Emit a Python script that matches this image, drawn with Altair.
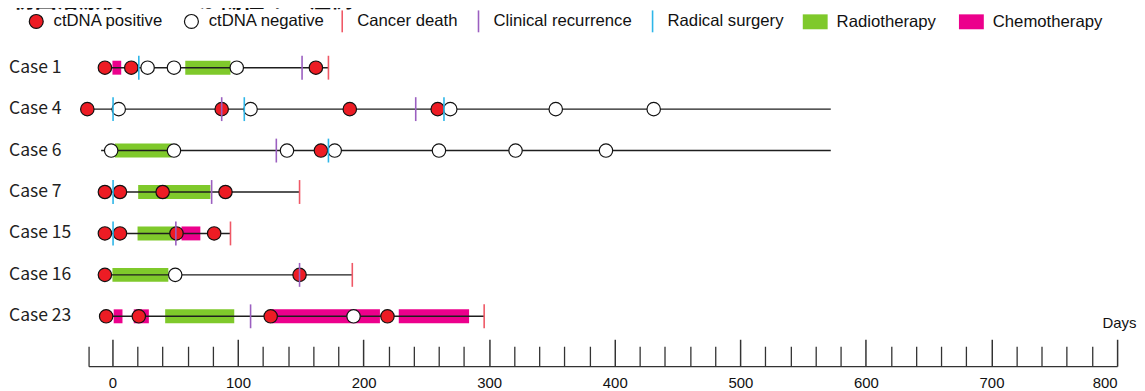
import altair as alt
import pandas as pd

TITLE = "初回治療後 ctDNA が陽性の 7 症例"

cases = ["Case 1", "Case 4", "Case 6", "Case 7", "Case 15", "Case 16", "Case 23"]

# follow-up line per case (days)
line_start = [-6, -20, -9, -6, -6, -6, -5]
line_end = [172, 572, 572, 149, 94, 191, 296]

# ctDNA tests
pt_case = (["Case 1"] * 6 + ["Case 4"] * 9 + ["Case 6"] * 8 + ["Case 7"] * 4
           + ["Case 15"] * 4 + ["Case 16"] * 3 + ["Case 23"] * 5)
pt_day = ([-6, 15, 28, 49, 99, 162]
          + [-20, 5, 87, 110, 189, 259, 269, 353, 431]
          + [-1, 49, 139, 166, 177, 260, 321, 393]
          + [-6, 6, 40, 90]
          + [-6, 6, 51, 81]
          + [-6, 50, 149]
          + [-5, 21, 126, 192, 219])
pt_status = (["P", "P", "N", "N", "N", "P"]
             + ["P", "N", "P", "N", "P", "P", "N", "N", "N"]
             + ["N", "N", "N", "P", "N", "N", "N", "N"]
             + ["P", "P", "P", "P"]
             + ["P", "P", "P", "P"]
             + ["P", "N", "P"]
             + ["P", "P", "P", "N", "P"])

# treatments (R = radiotherapy, C = chemotherapy)
tr_case = ["Case 1", "Case 1", "Case 6", "Case 7", "Case 15", "Case 15", "Case 16",
           "Case 23", "Case 23", "Case 23", "Case 23", "Case 23"]
tr_start = [0, 58, 2, 20.5, 20, 55, 0, 1, 17, 42, 127, 228]
tr_end = [7, 94, 47, 78, 50, 70, 44.5, 8, 29, 97, 213, 284]
tr_type = ["C", "R", "R", "R", "R", "C", "R", "C", "C", "R", "C", "C"]

# events: S = radical surgery, R = clinical recurrence, D = cancer death
ev_case = ["Case 1", "Case 1", "Case 1",
           "Case 4", "Case 4", "Case 4", "Case 4", "Case 4",
           "Case 6", "Case 6",
           "Case 7", "Case 7", "Case 7",
           "Case 15", "Case 15", "Case 15",
           "Case 16", "Case 16",
           "Case 23", "Case 23"]
ev_day = [21, 151, 172,
          0.5, 87, 105, 241.5, 264,
          130.5, 172,
          0.5, 79, 149,
          0.5, 50.5, 94,
          149, 191,
          110, 296]
ev_type = ["S", "R", "D",
           "S", "R", "S", "R", "S",
           "R", "S",
           "S", "R", "D",
           "S", "R", "D",
           "R", "D",
           "R", "D"]

major_ticks = [0, 100, 200, 300, 400, 500, 600, 700, 800]
minor_ticks = [-19] + [v for v in range(20, 800, 20) if v % 100 != 0]

circle_labels = ["ctDNA positive", "ctDNA negative"]
line_labels = ["Cancer death", "Clinical recurrence", "Radical surgery"]
rect_labels = ["Radiotherapy", "Chemotherapy"]

RED = "#ED1C24"
GREEN = "#7FC92B"
PINK = "#EC008C"
DEATH = "#EF5866"
RECUR = "#9B5FC0"
SURG = "#2EB6E8"
LINE = "#1E1E1E"

vline_path = "M0,-1L0,1"
rect_path = "M-1,-0.6L1,-0.6L1,0.6L-1,0.6Z"

lines_df = pd.DataFrame({"case": cases, "start": line_start, "end": line_end})
pts_df = pd.DataFrame({"case": pt_case, "day": pt_day, "status": pt_status})
tr_df = pd.DataFrame({"case": tr_case, "start": tr_start, "end": tr_end, "type": tr_type})
ev_df = pd.DataFrame({"case": ev_case, "day": ev_day, "type": ev_type})
lab_df = pd.DataFrame({"case": cases})
title_df = pd.DataFrame({"t": [TITLE]})

xscale = alt.Scale(domain=[-19, 800], nice=False, zero=False)
yscale = alt.Scale(type="point", domain=cases, padding=0.865, align=0.305)


def Y():
    return alt.Y("case:N", scale=yscale, sort=cases, axis=None)


label_axis = alt.Axis(values=major_ticks, domain=True, domainColor="#333", domainWidth=1.5,
                      ticks=False, labelPadding=9, labelFont="Liberation Sans",
                      labelFontSize=15, labelColor="#111", grid=False, title=None,
                      orient="bottom")
major_axis = alt.Axis(values=major_ticks, orient="top", offset=-322, domain=False,
                      labels=False, ticks=True, tickSize=27, tickWidth=1.5,
                      tickColor="#333", grid=False, title="Days", titleX=1053,
                      titleY=-39, titleAlign="right", titleBaseline="alphabetic",
                      titleAngle=0, titleFont="Liberation Sans", titleFontSize=15,
                      titleFontWeight="normal", titleColor="#111")
minor_axis = alt.Axis(values=minor_ticks, orient="top", offset=-322, domain=False,
                      labels=False, ticks=True, tickSize=20, tickWidth=1.3,
                      tickColor="#333", grid=False, title=None)

bars = alt.Chart(tr_df).mark_bar(size=14).encode(
    x=alt.X("start:Q", scale=xscale, axis=major_axis),
    x2="end:Q",
    y=Y(),
    fill=alt.condition("datum.type == 'R'", alt.value(GREEN), alt.value(PINK)),
)

lines = alt.Chart(lines_df).mark_rule(strokeWidth=1.4, color=LINE).encode(
    x=alt.X("start:Q", scale=xscale, axis=label_axis),
    x2="end:Q",
    y=Y(),
)

points = alt.Chart(pts_df).mark_point(shape="circle", size=182, opacity=1, fillOpacity=1,
                                      stroke="#111", strokeWidth=1.2).encode(
    x=alt.X("day:Q", scale=xscale, axis=minor_axis),
    y=Y(),
    fill=alt.condition("datum.status == 'P'", alt.value(RED), alt.value("white")),
)


def ev_layer(code, color):
    return alt.Chart(ev_df).transform_filter(f"datum.type == '{code}'").mark_tick(
        size=24, thickness=1.6, color=color, opacity=1
    ).encode(
        x=alt.X("day:Q", scale=xscale, axis=None),
        y=Y(),
    )


ticks_s = ev_layer("S", SURG)
ticks_r = ev_layer("R", RECUR)
ticks_d = ev_layer("D", DEATH)

case_labels = alt.Chart(lab_df).mark_text(
    align="left", baseline="middle", font="Noto Sans CJK JP", fontSize=17.6, color="#222"
).encode(
    text="case:N", y=Y(), x=alt.value(-80)
)

common_leg = dict(orient="none", direction="horizontal", labelFont="Liberation Sans",
                  labelFontSize=16.8, labelColor="#111", labelLimit=400, padding=0,
                  title=None)

leg_circles = alt.Chart(pd.DataFrame({"k": circle_labels})).transform_filter("false").mark_point(
    shape="circle", opacity=1, filled=True, stroke="#111", strokeWidth=1.2
).encode(
    fill=alt.Fill("k:N", title=None,
                  scale=alt.Scale(domain=circle_labels, range=[RED, "white"]),
                  legend=alt.Legend(legendX=-61, legendY=-33, symbolType="circle",
                                    symbolSize=196, symbolStrokeWidth=1.2,
                                    symbolStrokeColor="#111", symbolOpacity=1,
                                    labelOffset=9, columnPadding=19, **common_leg)),
)

leg_lines = alt.Chart(pd.DataFrame({"k": line_labels})).transform_filter("false").mark_point(
    shape=vline_path, opacity=1, filled=False, strokeWidth=1.6
).encode(
    stroke=alt.Stroke("k:N", title=None,
                      scale=alt.Scale(domain=line_labels, range=[DEATH, RECUR, SURG]),
                      legend=alt.Legend(legendX=243, legendY=-37, symbolType=vline_path,
                                        symbolSize=484, symbolStrokeWidth=1.6,
                                        symbolOpacity=1, labelOffset=3, columnPadding=9,
                                        **common_leg)),
)

leg_rects = alt.Chart(pd.DataFrame({"k": rect_labels})).transform_filter("false").mark_point(
    shape=rect_path, opacity=1, filled=True
).encode(
    color=alt.Color("k:N", title=None,
                    scale=alt.Scale(domain=rect_labels, range=[GREEN, PINK]),
                    legend=alt.Legend(legendX=718, legendY=-37, symbolType=rect_path,
                                      symbolSize=625, symbolStrokeWidth=0,
                                      symbolOpacity=1, labelOffset=9, columnPadding=23,
                                      **common_leg)),
)

title = alt.Chart(title_df).mark_text(align="left", baseline="alphabetic",
                                      font="Noto Sans CJK JP", fontSize=22,
                                      fontWeight="bold", color="#111").encode(
    text="t:N", x=alt.value(-76), y=alt.value(-39)
)

chart = alt.layer(bars, lines, points, ticks_s, ticks_r, ticks_d, case_labels,
                  leg_circles, leg_lines, leg_rects, title).resolve_axis(
    x="independent"
).properties(
    width=1034, height=322,
    autosize=alt.AutoSizeParams(type="none"),
    padding={"left": 81, "top": 37, "right": 20, "bottom": 30},
).configure_view(stroke=None)

chart.save("out.html", embed_options={"renderer": "svg", "actions": False})
